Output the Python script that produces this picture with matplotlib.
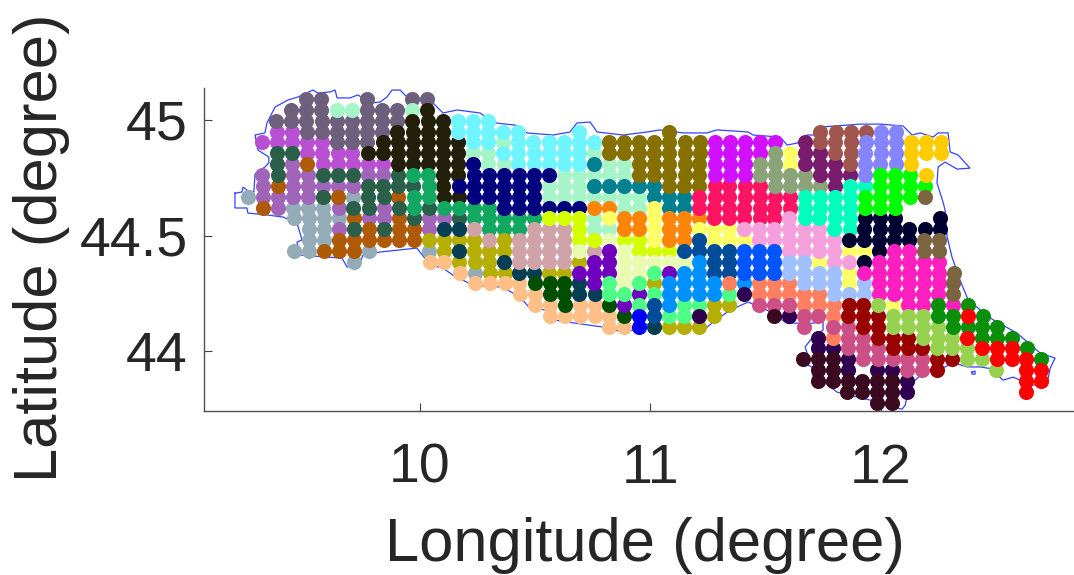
import matplotlib
matplotlib.use('Agg')
import matplotlib.pyplot as plt

# grid of the cells
grid_lon = [9.245, 9.310, 9.376, 9.442, 9.507, 9.573, 9.639, 9.704, 9.770, 9.836,
            9.901, 9.967, 10.033, 10.098, 10.164, 10.230, 10.295, 10.361, 10.426, 10.492,
            10.558, 10.623, 10.689, 10.755, 10.820, 10.886, 10.952, 11.017, 11.083, 11.149,
            11.214, 11.280, 11.345, 11.411, 11.477, 11.542, 11.608, 11.674, 11.739, 11.805,
            11.871, 11.936, 12.002, 12.068, 12.133, 12.199, 12.265, 12.330, 12.396, 12.461,
            12.527, 12.593, 12.658, 12.724]
grid_lat = [45.089, 45.042, 44.996, 44.949, 44.902, 44.855, 44.808, 44.762, 44.715, 44.668,
            44.621, 44.574, 44.528, 44.481, 44.434, 44.387, 44.340, 44.294, 44.247, 44.200,
            44.153, 44.106, 44.060, 44.013, 43.966, 43.919, 43.872, 43.826, 43.779]

# first occupied row of each column, then the cluster of each cell ('.' = no cell)
first_row = [9, 4, 2, 1, 0, 0, 1, 1, 0, 1, 1, 0, 0, 2, 2, 2, 2, 3, 3, 4, 4, 4, 3, 4, 4, 4, 4,
             4, 3, 4, 4, 4, 4, 4, 4, 4, 5, 4, 3, 3, 3, 3, 3, 3, 4, 4, 4, 16, 19, 20, 21, 22, 23, 24]
cell_clusters = [
    'h', 'c..gggf', 'accdddfgg', 'aaccdgggghh..h', 'aaaaccfggghhhhh', 'aaaacccdgdhhhhf',
    'baaaccdgfghgff', 'baaaccdghdfdffh', 'aaaaaicgdddgffh', 'aaaiicgddggdf', 'aaiiiiddfdfff',
    'abiiiiiedeedff', 'aiiiiiieeedggmhn', 'iiiiiiiieglmmn', 'jjiiiikiedlmlmn', 'jjjbkkkkeeommmhn',
    'jjjbbkkkeeeommmn', 'jbjbkkkkeemmlmn', 'jjjjkkkkeeooolnn', 'jjjkkkkeoooolsnn',
    'jjjkbbkpoooomssnn', 'jjjbbbkpoooomsssn', 'jjjjbbbkpppqmrllnn', 'jbububwbbporrrlnn',
    'vvbbubwxbqrrrttsnn', 'vvbbubbwwpqqqqtrsn', 'vvvvubbwwppqqtrtyy', 'vvvvuuxxxxpqtmtzzl',
    'vvvvvvuuwwwpqrAAAtm', 'vvvvvuuwwwzqAAAttm', 'vvvvvDDwxzzAAAAtSm', 'CCCCDDDDxxzzzAAmm',
    'CCCCDDDDxxzzzQtm', 'CCCCDDDDMxBBBAS', 'CCEEDDDDMMBBBQQR', 'CEEEEDDDMMBBBQQRU',
    'xxEEDDMMMMNNQQRS', 'FFFEEKKKMMMNNNQQRR..U', 'GGFFFEKKKMMMxNNQQR.SSUUU',
    'GGGFFFKKKKMMMNNNQQRQSUUU', 'GGGGFKKKKKLxMxxNTTRRRSSUU', 'GHHHHKJJLLLxLONNTTTRRR.UU',
    'HHHHJJJJLLLLOOOOVTTTRRSUUU', 'HHHHJJJJLLLOOOOOxVVTTRSUUU', 'IIIJJJ..LLOOOOOOVVTTRRSS',
    'II.IJP..LPPOOOOOVVVTRR', 'II.....LLPPOOOOWWVVVTT', 'PPPOWWVVT', 'WXWXVV', 'WWWXV',
    'WWXXV', 'WXX', 'WXXXX', 'WXX']

cluster_colors = {
    'a': '#6E5F7C', 'b': '#A6F5C8', 'c': '#B94FD3', 'd': '#2A6049', 'e': '#13A862',
    'f': '#AE5A07', 'g': '#A064B8', 'h': '#94ACB8', 'i': '#22200A', 'j': '#6FF5FF',
    'k': '#00007F', 'l': '#063F54', 'm': '#B5AE05', 'n': '#FFBF87', 'o': '#CFA3A8',
    'p': '#D4FF00', 'q': '#E8FBB0', 'r': '#6E00BE', 's': '#004F00', 't': '#4DFF85',
    'u': '#008090', 'v': '#857000', 'w': '#FF8508', 'x': '#FFFF66', 'y': '#0000FF',
    'z': '#004C99', 'A': '#0091FF', 'B': '#0055FF', 'C': '#D010FF', 'D': '#FF1464',
    'E': '#8BA378', 'F': '#7A1C6E', 'G': '#A0554F', 'H': '#8585FF', 'I': '#FFCC00',
    'J': '#00FF00', 'K': '#00FFBF', 'L': '#000030', 'M': '#F5A0DC', 'N': '#A0C0FF',
    'O': '#FF1FC0', 'P': '#7A6540', 'Q': '#FF7F60', 'R': '#CC4F85', 'S': '#300050',
    'T': '#990000', 'U': '#3A0A20', 'V': '#96D24F', 'W': '#0A8F0A', 'X': '#FF0000',
}

# region outline
border_lon = [9.199, 9.229, 9.234, 9.251, 9.281, 9.286, 9.329, 9.346, 9.346, 9.299, 9.286, 9.329,
              9.338, 9.373, 9.429, 9.472, 9.537, 9.559, 9.611, 9.633, 9.642, 9.698, 9.732, 9.784,
              9.828, 9.858, 9.880, 9.915, 9.945, 10.001, 10.058, 10.101, 10.162, 10.262, 10.327,
              10.413, 10.465, 10.578, 10.652, 10.682, 10.739, 10.769, 10.882, 10.986, 11.042,
              11.142, 11.246, 11.289, 11.424, 11.445, 11.563, 11.593, 11.636, 11.680, 11.723,
              11.736, 11.909, 11.996, 12.096, 12.135, 12.170, 12.226, 12.248, 12.291, 12.300,
              12.334, 12.386, 12.330, 12.300, 12.278, 12.248, 12.243, 12.269, 12.278, 12.287,
              12.308, 12.343, 12.378, 12.473, 12.590, 12.690, 12.755, 12.734, 12.721, 12.656,
              12.625, 12.573, 12.530, 12.504, 12.487, 12.430, 12.374, 12.313, 12.278, 12.183,
              12.148, 12.113, 12.105, 12.092, 12.009, 11.953, 11.866, 11.810, 11.758, 11.706,
              11.701, 11.684, 11.680, 11.671, 11.701, 11.749, 11.749, 11.701, 11.640, 11.593,
              11.506, 11.424, 11.345, 11.267, 11.246, 11.142, 11.042, 11.033, 10.925, 10.882,
              10.795, 10.639, 10.587, 10.552, 10.478, 10.435, 10.361, 10.231, 10.144, 10.101,
              10.045, 10.001, 9.988, 9.828, 9.754, 9.741, 9.685, 9.663, 9.598, 9.481, 9.468,
              9.490, 9.468, 9.407, 9.338, 9.255, 9.251, 9.199, 9.199]
border_lat = [44.683, 44.688, 44.709, 44.696, 44.688, 44.766, 44.796, 44.813, 44.839, 44.869, 44.934,
              44.943, 44.986, 45.055, 45.085, 45.098, 45.128, 45.115, 45.120, 45.128, 45.094, 45.094,
              45.107, 45.072, 45.076, 45.098, 45.128, 45.128, 45.098, 45.085, 45.072, 45.029, 45.042,
              45.029, 44.986, 44.977, 44.943, 44.934, 44.947, 44.986, 44.990, 44.947, 44.934, 44.947,
              44.956, 44.943, 44.943, 44.956, 44.947, 44.934, 44.925, 44.891, 44.899, 44.934, 44.934,
              44.968, 44.981, 44.981, 44.973, 44.934, 44.943, 44.925, 44.943, 44.943, 44.861, 44.848,
              44.791, 44.787, 44.804, 44.817, 44.796, 44.727, 44.645, 44.610, 44.494, 44.407, 44.308,
              44.222, 44.144, 44.079, 43.993, 43.971, 43.928, 43.863, 43.854, 43.867, 43.889, 43.876,
              43.898, 43.924, 43.933, 43.933, 43.951, 43.933, 43.906, 43.876, 43.803, 43.768, 43.751,
              43.768, 43.790, 43.811, 43.824, 43.863, 43.889, 43.932, 43.941, 43.993, 44.019, 44.058,
              44.092, 44.127, 44.122, 44.122, 44.122, 44.178, 44.213, 44.178, 44.122, 44.105, 44.101,
              44.101, 44.135, 44.092, 44.083, 44.105, 44.127, 44.135, 44.178, 44.187, 44.234, 44.277,
              44.286, 44.329, 44.360, 44.373, 44.429, 44.446, 44.429, 44.416, 44.381, 44.364, 44.403,
              44.407, 44.416, 44.472, 44.481, 44.554, 44.580, 44.589, 44.597, 44.619, 44.619, 44.683]
island_lon = [12.395, 12.408, 12.408, 12.395, 12.395]
island_lat = [43.911, 43.915, 43.902, 43.902, 43.911]

x_ticks = [10, 11, 12]
y_ticks = [44, 44.5, 45]
y_tick_labels = ['44', '44.5', '45']

plt.rcParams['font.family'] = ['Liberation Sans', 'DejaVu Sans']
text_color = '#262626'

fig = plt.figure(figsize=(10.74, 5.75), dpi=100)
ax = fig.add_axes([0.1902, 0.2857, 0.8098, 0.5613])

ax.plot(border_lon, border_lat, color='#3344FF', lw=0.9, zorder=1)
ax.plot(island_lon, island_lat, color='#3344FF', lw=0.9, zorder=1)

# the meridians close in slightly towards the south
lon_per_row = 0.000685

points = {}
for col, (start, cells) in enumerate(zip(first_row, cell_clusters)):
    for i, cluster in enumerate(cells):
        if cluster == '.':
            continue
        row = start + i
        lon = grid_lon[col] - lon_per_row * row * (grid_lon[col] - 11.0)
        points.setdefault(cluster, []).append((lon, grid_lat[row]))

for cluster, pts in points.items():
    ax.scatter([p[0] for p in pts], [p[1] for p in pts], s=118,
               color=cluster_colors[cluster], linewidths=0, zorder=2, clip_on=False)

ax.set_xlim(9.066, 12.837)
ax.set_ylim(43.744, 45.137)
ax.set_xticks(x_ticks)
ax.set_xticklabels([str(t) for t in x_ticks])
ax.set_yticks(y_ticks)
ax.set_yticklabels(y_tick_labels)
ax.tick_params(direction='in', length=6, width=0.8, color='#404040',
               labelsize=40, labelcolor=text_color)
ax.tick_params(axis='x', pad=23)
ax.tick_params(axis='y', pad=12)
for side in ['top', 'right']:
    ax.spines[side].set_visible(False)
for side in ['left', 'bottom']:
    ax.spines[side].set_color('#505050')
    ax.spines[side].set_linewidth(1.0)

fig.text(645 / 1074, 1 - 546 / 575, 'Longitude (degree)', fontsize=44.3, color=text_color,
         ha='center', va='center')
fig.text(42 / 1074, 1 - 248 / 575, 'Latitude (degree)', fontsize=44.3, color=text_color,
         ha='center', va='center', rotation=90)

fig.savefig('out.png', dpi=100)
